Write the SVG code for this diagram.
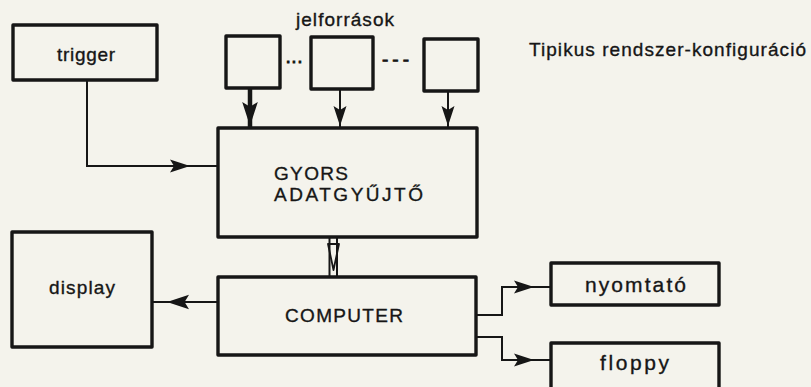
<svg xmlns="http://www.w3.org/2000/svg" xmlns:xlink="http://www.w3.org/1999/xlink" width="811" height="387" viewBox="0 0 811 387">
<style>
.box{fill:none;stroke:#161616;stroke-width:3.4;stroke-linejoin:round}
.ln{fill:none;stroke:#161616;stroke-width:2}
.t{font-family:"Liberation Sans",Arial,sans-serif;fill:#161616;font-size:19px;stroke:#161616;stroke-width:0.35}
.l{font-size:21px}
.d{stroke-width:0.8}
</style>
<defs>
<path id="ah" d="M0,0 L-20,-6.5 L-16,0 L-20,6.5 Z" fill="#161616"/>
</defs>
<rect width="811" height="387" fill="#f4f3ec"/>
<g id="title"><text class="t" x="529" y="56" textLength="277" lengthAdjust="spacing">Tipikus rendszer-konfiguráció</text></g>
<g id="label-jelforrasok"><text class="t" x="296" y="26" textLength="98" lengthAdjust="spacing">jelforrások</text></g>
<g id="trigger"><rect class="box" x="13" y="25" width="144" height="55"/><text class="t" x="57" y="61" textLength="58" lengthAdjust="spacing">trigger</text></g>
<g id="source1"><rect class="box" x="226" y="36" width="54" height="52"/></g>
<g id="source2"><rect class="box" x="311" y="37" width="62" height="52"/></g>
<g id="source3"><rect class="box" x="424" y="39" width="54" height="52"/></g>
<g id="dots"><text class="t d" x="285" y="67" textLength="18" lengthAdjust="spacing">···</text><text class="t d" x="382" y="66" textLength="27" lengthAdjust="spacing">- - -</text></g>
<g id="gyors"><rect class="box" x="218" y="128" width="259" height="109"/><text class="t" x="274" y="180" textLength="74" lengthAdjust="spacing">GYORS</text><text class="t" x="274" y="201" textLength="149" lengthAdjust="spacing">ADATGYŰJTŐ</text></g>
<g id="display"><rect class="box" x="12" y="232" width="140" height="115"/><text class="t" x="49" y="294" textLength="66" lengthAdjust="spacing">display</text></g>
<g id="computer"><rect class="box" x="218" y="277" width="258" height="78"/><text class="t" x="285" y="322" textLength="118" lengthAdjust="spacing">COMPUTER</text></g>
<g id="nyomtato"><rect class="box" x="551" y="263" width="168" height="42"/><text class="t l" x="585" y="292" textLength="101" lengthAdjust="spacing">nyomtató</text></g>
<g id="floppy"><rect class="box" x="551" y="343" width="168" height="50"/><text class="t l" x="600" y="370" textLength="69" lengthAdjust="spacing">floppy</text></g>
<g id="connectors">
<polyline class="ln" points="87,80 87,166 218,166"/>
<use xlink:href="#ah" transform="translate(190,166)"/>
<line class="ln" x1="250" y1="88" x2="250" y2="128" style="stroke-width:4.5"/>
<use xlink:href="#ah" transform="translate(250,126) rotate(90) scale(1.2)"/>
<line class="ln" x1="340" y1="89" x2="340" y2="128"/>
<use xlink:href="#ah" transform="translate(340,126) rotate(90)"/>
<line class="ln" x1="448" y1="91" x2="448" y2="128"/>
<use xlink:href="#ah" transform="translate(448,126) rotate(90)"/>
<line class="ln" x1="329.5" y1="237" x2="329.5" y2="277"/>
<line class="ln" x1="337" y1="237" x2="337" y2="277"/>
<path d="M328,244 L339,244 L333.5,270 Z" fill="none" stroke="#161616" stroke-width="1.8" stroke-linejoin="round"/>
<line class="ln" x1="218" y1="302" x2="152" y2="302"/>
<use xlink:href="#ah" transform="translate(167,302) rotate(180) scale(1.1)"/>
<polyline class="ln" points="476,315 502,315 502,287 551,287"/>
<use xlink:href="#ah" transform="translate(534,287)"/>
<polyline class="ln" points="476,337 502,337 502,360 551,360"/>
<use xlink:href="#ah" transform="translate(534,360)"/>
</g>
</svg>
